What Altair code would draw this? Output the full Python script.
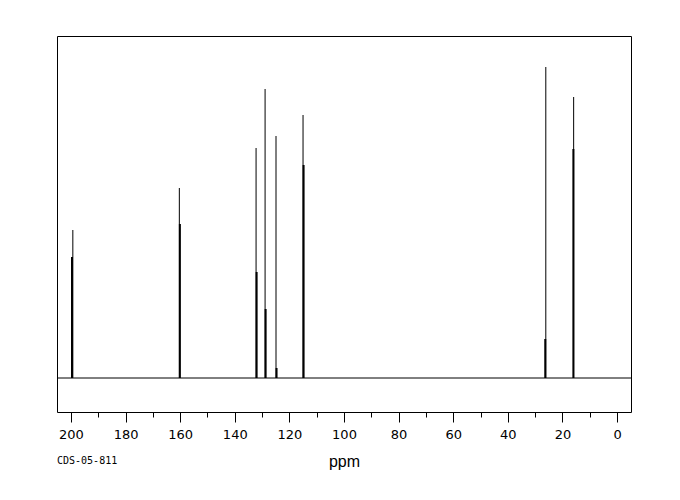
import altair as alt
import pandas as pd

# Peak positions (ppm) and relative intensities
peak_ppm = [199.3, 160.3, 132.2, 128.9, 124.9, 115.0, 26.1, 15.9]
peak_height = [148, 190, 230, 289, 242, 263, 311, 281]
# shoulder (second, shorter component drawn next to each line)
shoulder_ppm = [199.6, 160.1, 132.0, 128.7, 124.7, 114.8, 26.3, 16.0]
shoulder_height = [121, 154, 106, 69, 10, 213, 39, 229]

major_ticks = list(range(0, 201, 20))
minor_ticks = list(range(10, 200, 20))
x_domain = [-5.1, 205.1]
y_domain = [-34, 342]

peaks = pd.DataFrame({"ppm": peak_ppm, "h": peak_height, "z": [0] * len(peak_ppm)})
shoulders = pd.DataFrame({"ppm": shoulder_ppm, "h": shoulder_height, "z": [0] * len(shoulder_ppm)})

xscale = alt.Scale(domain=x_domain, reverse=True, nice=False, zero=False)
yscale = alt.Scale(domain=y_domain, nice=False, zero=False)

major_axis = alt.Axis(
    values=major_ticks, format="d", domain=False, grid=False,
    tickSize=10, tickColor="black", tickWidth=1,
    labelFont="DejaVu Sans", labelFontSize=13, labelColor="black",
    labelPadding=6, labelFlush=False, labelOverlap=False,
    title="ppm", titleFont="Liberation Sans", titleFontSize=16,
    titleFontWeight="normal", titleColor="black", titlePadding=12,
)
minor_axis = alt.Axis(
    orient="bottom", values=minor_ticks, domain=False, grid=False,
    tickSize=5, tickColor="black", tickWidth=1, labels=False, title=None,
)

main = alt.Chart(peaks).mark_rule(color="black", strokeWidth=1).encode(
    x=alt.X("ppm:Q", scale=xscale, axis=major_axis),
    y=alt.Y("z:Q", scale=yscale, axis=None),
    y2="h:Q",
)

shoulder = alt.Chart(shoulders).mark_rule(color="black", strokeWidth=2).encode(
    x=alt.X("ppm:Q", scale=xscale, axis=minor_axis),
    y=alt.Y("z:Q", scale=yscale, axis=None),
    y2="h:Q",
)

baseline = alt.Chart(pd.DataFrame({"z": [0]})).mark_rule(color="black", strokeWidth=1).encode(
    y=alt.Y("z:Q", scale=yscale, axis=None),
)

label = alt.Chart(pd.DataFrame({"t": ["CDS-05-811"]})).mark_text(
    font="DejaVu Sans Mono", fontSize=10, align="left", baseline="middle", color="black"
).encode(
    text="t:N", x=alt.value(0), y=alt.value(425),
)

chart = alt.layer(baseline, main, shoulder, label).resolve_axis(x="independent").properties(
    width=574, height=376,
    padding={"left": 49, "top": 28, "right": 40, "bottom": 70},
    autosize=alt.AutoSizeParams(type="none"),
    background="white",
).configure_view(stroke="black", strokeWidth=1)

chart.save("out.html", embed_options={"renderer": "svg", "actions": False})
